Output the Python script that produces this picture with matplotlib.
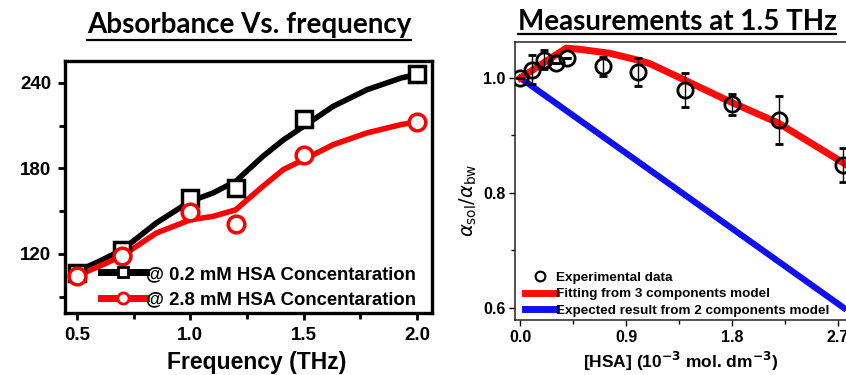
import numpy as np
import matplotlib
matplotlib.use('Agg')
import matplotlib.pyplot as plt
from matplotlib.lines import Line2D
from matplotlib.ticker import MultipleLocator

# ---- data: absorbance vs frequency ----
freq = [0.5, 0.7, 1.0, 1.2, 1.5, 2.0]
abs_low = [107, 123, 159, 166, 215, 246]     # 0.2 mM squares
abs_high = [104.6, 118.6, 149.5, 141.1, 189.5, 212.6]   # 2.8 mM circles
# smooth guide curves
curve_x = [0.5, 0.6, 0.7, 0.85, 1.0, 1.1, 1.2, 1.32, 1.41, 1.5, 1.63, 1.78, 1.93, 2.0]
curve_low = [107.8, 115, 123, 141.8, 157, 162.8, 171, 188.5, 200, 209.6, 223.6, 235.3, 243.5, 245.9]
curve_high = [104.8, 111.5, 118.8, 134.7, 144, 146.4, 151, 167.5, 179.2, 186.2, 196.7, 205, 210.8, 212.7]

# ---- data: measurements at 1.5 THz ----
hsa = [0.0, 0.1, 0.2, 0.3, 0.4, 0.7, 1.0, 1.4, 1.8, 2.2, 2.74]
ratio = [1.0, 1.0145, 1.032, 1.026, 1.035, 1.020, 1.010, 0.979, 0.954, 0.927, 0.849]
ratio_err = [0.0, 0.025, 0.017, 0.0, 0.0, 0.016, 0.024, 0.030, 0.018, 0.042, 0.030]
fit_x = [0.0, 0.39, 0.5, 0.76, 1.0, 1.1, 1.36, 1.78, 2.19, 2.74, 2.85]
fit_y = [1.0, 1.052, 1.050, 1.043, 1.031, 1.025, 1.0, 0.959, 0.922, 0.853, 0.838]
two_comp_x = [0.0, 2.75]
two_comp_y = [1.0, 0.6]

W, H = 846, 375
fig = plt.figure(figsize=(W / 100, H / 100), dpi=100)
plt.rcParams['font.family'] = ['Liberation Sans', 'DejaVu Sans']

# ---------------- left panel ----------------
ax1 = fig.add_axes([65 / W, 1 - 313 / H, (432 - 65) / W, (313 - 61) / H])
ax1.plot(curve_x, curve_low, color='black', lw=4, solid_capstyle='round', zorder=2)
ax1.plot(curve_x, curve_high, color='red', lw=4, solid_capstyle='round', zorder=2)
ax1.plot(freq, abs_low, ls='none', marker='s', ms=11, mfc='white', mec='black', mew=2.5, zorder=3)
ax1.plot(freq, abs_high, ls='none', marker='o', ms=12, mfc='white', mec='red', mew=2.5, zorder=4)
ax1.set_xlim(0.447, 2.066)
ax1.set_ylim(78.6, 255.4)
ax1.xaxis.set_minor_locator(MultipleLocator(0.25))
ax1.yaxis.set_minor_locator(MultipleLocator(30))
for s in ax1.spines.values():
    s.set_linewidth(2.4)
ax1.tick_params(which='major', direction='out', length=5, width=2, labelsize=13.5, pad=5)
ax1.tick_params(which='minor', direction='out', length=4, width=2)
ax1.set_yticks([120, 180, 240])
ax1.set_xticks([0.5, 1.0, 1.5, 2.0])
ax1.set_xticklabels(['0.5', '1.0', '1.5', '2.0'], fontweight='bold')
ax1.set_yticklabels(['120', '180', '240'], fontweight='bold')
ax1.set_xlabel('Frequency (THz)', fontsize=16.5, fontweight='bold')
ax1.xaxis.set_label_coords(257 / W, 1 - 362 / H, transform=fig.transFigure)
ax1.xaxis.label.set_va('center')

h1 = Line2D([], [], color='black', lw=5, marker='s', ms=7, mfc='white', mec='black', mew=2)
h2 = Line2D([], [], color='red', lw=5, marker='o', ms=8, mfc='white', mec='red', mew=2)
leg1 = ax1.legend([h1, h2], ['@ 0.2 mM HSA Concentaration', '@ 2.8 mM HSA Concentaration'],
                  loc='center left', bbox_to_anchor=(92 / W, 1 - 287 / H),
                  bbox_transform=fig.transFigure, frameon=False, handlelength=2.4,
                  handletextpad=0.05, labelspacing=0.45, borderpad=0,
                  prop={'weight': 'bold', 'size': 13.3})

# ---------------- right panel ----------------
x_right = 855.6
ax2 = fig.add_axes([515 / W, 1 - 320 / H, (x_right - 515) / W, (320 - 42) / H])
ax2.plot(two_comp_x, two_comp_y, color='#1010ee', lw=4.5, zorder=2)
ax2.plot(fit_x, fit_y, color='#ff0a0a', lw=5, zorder=2)
ax2.errorbar(hsa, ratio, yerr=ratio_err, fmt='o', ms=11, mfc='none', mec='black', mew=2,
             ecolor='black', elinewidth=1, capsize=3, capthick=1, zorder=3)
ax2.set_xlim(-0.046, 2.85)
ax2.set_ylim(0.579, 1.0626)
ax2.set_xticks([0.0, 0.9, 1.8, 2.7])
ax2.set_xticklabels(['0.0', '0.9', '1.8', '2.7'], fontweight='bold')
ax2.xaxis.set_minor_locator(MultipleLocator(0.45))
ax2.set_yticks([0.6, 0.8, 1.0])
ax2.set_yticklabels(['0.6', '0.8', '1.0'], fontweight='bold')
ax2.yaxis.set_minor_locator(MultipleLocator(0.1))
for s in ax2.spines.values():
    s.set_linewidth(1.1)
    s.set_color('#222222')
ax2.tick_params(which='major', direction='out', length=4, width=1, labelsize=11.5, pad=3)
ax2.tick_params(which='minor', direction='out', length=3, width=1)
ax2.set_xlabel(r'[HSA] (10$^{\mathbf{-3}}$ mol. dm$^{\mathbf{-3}}$)', fontsize=12.5,
               fontweight='bold')
ax2.xaxis.set_label_coords(681 / W, 1 - 361 / H, transform=fig.transFigure)
ax2.xaxis.label.set_va('center')
ax2.set_ylabel(r'$\alpha_{\mathrm{sol}}/\alpha_{\mathrm{bw}}$', fontsize=14)
ax2.yaxis.set_label_coords(468 / W, 1 - 200 / H, transform=fig.transFigure)
ax2.yaxis.label.set_ha('center')
ax2.yaxis.label.set_va('center')

e1 = Line2D([], [], ls='none', marker='o', ms=7, mfc='none', mec='black', mew=1.5)
e2 = Line2D([], [], color='#ff0a0a', lw=5)
e3 = Line2D([], [], color='#1010ee', lw=5)
ax2.legend([e1, e2, e3], ['Experimental data', 'Fitting from 3 components model',
                          'Expected result from 2 components model'],
           loc='center left', bbox_to_anchor=(518 / W, 1 - 294 / H),
           bbox_transform=fig.transFigure, frameon=False, handlelength=2.3,
           handletextpad=0.05, labelspacing=0.3, borderpad=0,
           prop={'weight': 'bold', 'size': 9.7})

# ---------------- underlined titles ----------------
t1 = fig.text(249 / W, 1 - 25 / H, 'Absorbance Vs. frequency', ha='center', va='center',
              fontsize=20, fontweight='bold', family=['Lato', 'DejaVu Sans'])
t2 = fig.text(677 / W, 1 - 22 / H, 'Measurements at 1.5 THz', ha='center', va='center',
              fontsize=20, fontweight='bold', family=['Lato', 'DejaVu Sans'])
fig.canvas.draw()
r = fig.canvas.get_renderer()
for t, yline in [(t1, 40), (t2, 34)]:
    bb = t.get_window_extent(r)
    fig.add_artist(Line2D([bb.x0 / W, bb.x1 / W], [1 - yline / H, 1 - yline / H],
                          transform=fig.transFigure, color='black', lw=1.6))

fig.savefig('out.png', dpi=100)
